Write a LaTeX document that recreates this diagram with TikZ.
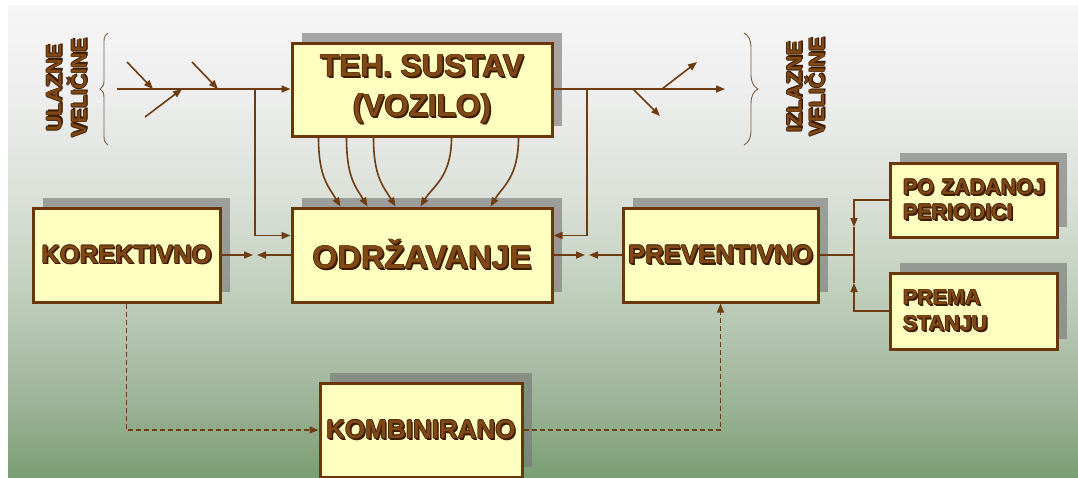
\documentclass[tikz,border=0pt]{standalone}
\usepackage{fontspec}
\setmainfont{Liberation Sans}
\usetikzlibrary{arrows.meta,shadows,decorations.pathreplacing,calc}
\definecolor{boxfill}{RGB}{255,255,192}
\definecolor{boxborder}{RGB}{108,54,12}
\definecolor{linec}{RGB}{110,60,18}
\definecolor{tmain}{RGB}{128,72,18}
\definecolor{tshadow}{RGB}{62,28,4}
\definecolor{shadowgray}{RGB}{115,115,115}
\definecolor{bracec}{RGB}{125,95,65}
\definecolor{bgA}{RGB}{122,158,115}
\definecolor{bgB}{RGB}{157,180,152}
\definecolor{bgC}{RGB}{190,205,186}
\definecolor{bgD}{RGB}{218,224,216}
\definecolor{bgE}{RGB}{236,237,236}
\definecolor{bgF}{RGB}{245,246,245}
\pgfdeclareverticalshading{bgshade}{100bp}{color(0bp)=(bgA); color(25bp)=(bgA); color(33.2bp)=(bgB); color(43.75bp)=(bgC); color(54.3bp)=(bgD); color(64.9bp)=(bgE); color(75bp)=(bgF); color(100bp)=(bgF)}
\newcommand\shcopy[3]{\rlap{\kern#1\raisebox{#2}{\textcolor{tshadow}{#3}}}}
\newcommand\btxt[1]{\mbox{\shcopy{1.6pt}{-1.6pt}{#1}\shcopy{0.7pt}{0pt}{#1}\shcopy{-0.7pt}{0pt}{#1}\shcopy{0pt}{0.7pt}{#1}\shcopy{0pt}{-0.7pt}{#1}\textcolor{tmain}{#1}}}
\tikzset{
  box/.style={draw=boxborder, line width=3pt, fill=boxfill, inner sep=0pt,
    drop shadow={shadow xshift=10pt, shadow yshift=10pt, fill=shadowgray, opacity=0.6}},
  conn/.style={draw=linec, line width=1.6pt},
  dconn/.style={draw=linec, line width=1.3pt, dash pattern=on 5pt off 3pt},
  arr/.style={-{Triangle[length=9pt,width=7pt]}},
  brc/.style={decorate, draw=bracec, line width=0.9pt},
  lab/.style={rotate=90, align=center, inner sep=0pt}
}
\begin{document}
\begin{tikzpicture}[x=1pt,y=-1pt]
\useasboundingbox (0,0) rectangle (1078,477);
\fill[white] (0,0) rectangle (1078,477);
\shade[shading=bgshade] (8,5) rectangle (1078,477);

% boxes
\node[box, minimum width=260pt, minimum height=93pt, align=center, font=\fontsize{31.5}{40}\selectfont\bfseries] (teh) at (422,89.5) {\btxt{TEH. SUSTAV}\\\btxt{(VOZILO)}};
\node[box, minimum width=260pt, minimum height=94pt, font=\fontsize{32.5}{38}\selectfont\bfseries] (odr) at (422,255) {\btxt{ODRŽAVANJE}};
\node[box, minimum width=187pt, minimum height=94pt, font=\fontsize{25.5}{30}\selectfont\bfseries] (kor) at (126.5,255) {\btxt{KOREKTIVNO}};
\node[box, minimum width=195pt, minimum height=94pt, font=\fontsize{25.8}{30}\selectfont\bfseries] (prev) at (720.5,255) {\btxt{PREVENTIVNO}};
\node[box, minimum width=167pt, minimum height=74pt, align=left, text width=141pt, inner xsep=13pt, font=\fontsize{21.5}{25}\selectfont\bfseries] (poz) at (973.5,200) {\btxt{PO ZADANOJ}\\\btxt{PERIODICI}};
\node[box, minimum width=167pt, minimum height=76pt, align=left, text width=141pt, inner xsep=13pt, font=\fontsize{21.5}{26}\selectfont\bfseries] (prema) at (973.5,311) {\btxt{PREMA}\\\btxt{STANJU}};
\node[box, minimum width=202pt, minimum height=94pt, font=\fontsize{26}{30}\selectfont\bfseries] (komb) at (421,430) {\btxt{KOMBINIRANO}};

% side labels
\node[lab, font=\fontsize{21.5}{25}\selectfont\bfseries] (inlab) at (67,88) {\btxt{ULAZNE}\\\btxt{VELIČINE}};
\node[lab, font=\fontsize{21.5}{21}\selectfont\bfseries] (outlab) at (806,87) {\btxt{IZLAZNE}\\\btxt{VELIČINE}};

% braces
\draw[brc, decoration={brace,amplitude=8pt}] (108,145) -- (108,33);
\draw[brc, decoration={brace,amplitude=14pt}] (744,33) -- (744,145);

% input side
\coordinate (inStart) at (117,89);
\draw[conn,arr] (inStart) -- (inStart -| teh.west);
\coordinate (a1s) at (127,62); \coordinate (a1e) at (153,89);
\coordinate (a2s) at (192,62); \coordinate (a2e) at (218,89);
\coordinate (a3s) at (145,117); \coordinate (a3e) at (182,89);
\draw[conn,arr] (a1s) -- (a1e);
\draw[conn,arr] (a2s) -- (a2e);
\draw[conn,arr] (a3s) -- (a3e);
\coordinate (inj) at (255,89);
\draw[conn,arr] (inj) |- ($(odr.north west)+(0,29)$);

% output side
\coordinate (outEnd) at (725,89);
\draw[conn,arr] (outEnd -| teh.east) -- (outEnd);
\coordinate (o1s) at (662,89); \coordinate (o1e) at (697,62);
\coordinate (o2s) at (633,89); \coordinate (o2e) at (660,116);
\draw[conn,arr] (o1s) -- (o1e);
\draw[conn,arr] (o2s) -- (o2e);
\coordinate (outj) at (587,89);
\draw[conn,arr] (outj) |- ($(odr.north east)+(0,29)$);

% curved arrows
\draw[conn,arr] ($(teh.south west)+(28,0)$) .. controls +(0,40) and +(-12,-20) .. ($(odr.north west)+(50,0)$);
\draw[conn,arr] ($(teh.south west)+(56,0)$) .. controls +(0,40) and +(-12,-20) .. ($(odr.north west)+(77,0)$);
\draw[conn,arr] ($(teh.south west)+(83,0)$) .. controls +(0,40) and +(-12,-20) .. ($(odr.north west)+(105,0)$);
\draw[conn,arr] ($(teh.south west)+(161,0)$) .. controls +(0,40) and +(12,-20) .. ($(odr.north west)+(130,0)$);
\draw[conn,arr] ($(teh.south west)+(228,0)$) .. controls +(0,40) and +(12,-20) .. ($(odr.north west)+(200,0)$);

% horizontal links
\coordinate (k1) at (253,255); \coordinate (k2) at (257,255);
\draw[conn,arr] (kor.east) -- (k1);
\draw[conn,arr] (odr.west) -- (k2);
\coordinate (p1) at (585,255); \coordinate (p2) at (589,255);
\draw[conn,arr] (odr.east) -- (p1);
\draw[conn,arr] (prev.west) -- (p2);

% preventive branches
\coordinate (pj) at (854,255);
\coordinate (pjt) at (854,227); \coordinate (pjb) at (854,283);
\draw[conn] (prev.east) -- (pj);
\draw[conn,arr] (poz.west) -| (pjt);
\draw[conn,arr] (prema.west) -| (pjb);
\draw[conn] (pjt) -- (pjb);

% dashed
\draw[dconn,arr] (kor.south) |- (komb.west);
\draw[dconn,arr] (komb.east) -| (prev.south);
\end{tikzpicture}
\end{document}
